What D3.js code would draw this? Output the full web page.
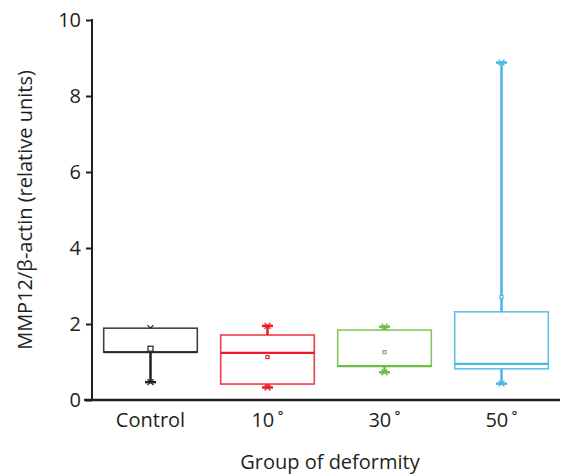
<!DOCTYPE html>
<html><head><meta charset="utf-8">
<script src="https://cdn.jsdelivr.net/npm/d3@7"></script>
<style>body{margin:0;background:#fff}svg{display:block}text{font-family:"Open Sans","Noto Sans",sans-serif;fill:#231f20}</style>
</head><body><svg width="561" height="474"></svg>
<script>
const categories = ["Control", "10\u2009˚", "30\u2009˚", "50\u2009˚"];
const minVals = [0.47, 0.33, 0.73, 0.43];
const q1Vals = [1.26, 0.42, 0.89, 0.82];
const medianVals = [1.26, 1.24, 0.89, 0.95];
const q3Vals = [1.89, 1.71, 1.84, 2.32];
const maxVals = [1.89, 1.95, 1.93, 8.88];
const meanVals = [1.35, 1.13, 1.26, 2.71];
const colors = ["#231f20", "#ed1c24", "#6cbd45", "#4bb4e6"];
const yTicks = [0, 2, 4, 6, 8, 10];

const svg = d3.select("svg");
const x = d3.scaleBand().domain(categories).range([92, 560]).paddingInner(0).paddingOuter(0);
const y = d3.scaleLinear().domain([0, 10]).range([400, 20]);
const bw = x.bandwidth() * 0.8;

// y axis
const ya = svg.append("g").attr("transform", "translate(92,0)")
  .call(d3.axisLeft(y).tickValues(yTicks).tickSize(6).tickPadding(5).tickFormat(d3.format("d")));
ya.select(".domain").attr("stroke", "#231f20").attr("stroke-width", 2).attr("d", "M0,19V401");
ya.selectAll(".tick line").attr("stroke", "#231f20").attr("stroke-width", 2);
ya.selectAll(".tick text").style("font-size", "20px").attr("fill", "#231f20");

// x axis
const xa = svg.append("g").attr("transform", "translate(0,400)")
  .call(d3.axisBottom(x).tickSize(0).tickPadding(13));
xa.select(".domain").attr("stroke", "#231f20").attr("stroke-width", 2.5).attr("d", "M84,0H560");
xa.selectAll(".tick text").style("font-size", "20px").attr("fill", "#231f20");

svg.append("text").attr("x", 330).attr("y", 469).attr("text-anchor", "middle").style("font-size", "20px").text("Group of deformity");
svg.append("text").attr("transform", "translate(32,210) rotate(-90)").attr("text-anchor", "middle").style("font-size", "20px").text("MMP12/β-actin (relative units)");

categories.forEach((c, i) => {
  const cx = x(c) + x.bandwidth() / 2;
  const col = colors[i];
  const g = svg.append("g");
  // whiskers
  g.append("line").attr("x1", cx).attr("x2", cx).attr("y1", y(q3Vals[i])).attr("y2", y(maxVals[i])).attr("stroke", col).attr("stroke-width", 2.5);
  g.append("line").attr("x1", cx).attr("x2", cx).attr("y1", y(q1Vals[i])).attr("y2", y(minVals[i])).attr("stroke", col).attr("stroke-width", 2.5);
  // caps
  [minVals[i], maxVals[i]].forEach((v, k) => {
    if (!(i === 0 && k === 1)) {
      g.append("line").attr("x1", cx - 5.5).attr("x2", cx + 5.5).attr("y1", y(v)).attr("y2", y(v)).attr("stroke", col).attr("stroke-width", 2.5);
    }
    g.append("path").attr("d", `M${cx-3},${y(v)-3}L${cx+3},${y(v)+3}M${cx+3},${y(v)-3}L${cx-3},${y(v)+3}`).attr("stroke", col).attr("stroke-width", 1.2);
  });
  // box
  g.append("rect").attr("x", cx - bw / 2).attr("y", y(q3Vals[i])).attr("width", bw).attr("height", y(q1Vals[i]) - y(q3Vals[i]))
    .attr("fill", "#fff").attr("stroke", col).attr("stroke-opacity", 0.85).attr("stroke-width", 1.6);
  // median
  g.append("line").attr("x1", cx - bw / 2).attr("x2", cx + bw / 2).attr("y1", y(medianVals[i])).attr("y2", y(medianVals[i])).attr("stroke", col).attr("stroke-opacity", i === 0 ? 0.75 : 1).attr("stroke-width", 2.2);
  // mean
  const ms = i === 0 ? 5 : 3;
  g.append("rect").attr("x", cx - ms / 2).attr("y", y(meanVals[i]) - ms / 2).attr("width", ms).attr("height", ms)
    .attr("fill", "#fff").attr("stroke", col).attr("stroke-width", 1.2);
});
</script></body></html>
